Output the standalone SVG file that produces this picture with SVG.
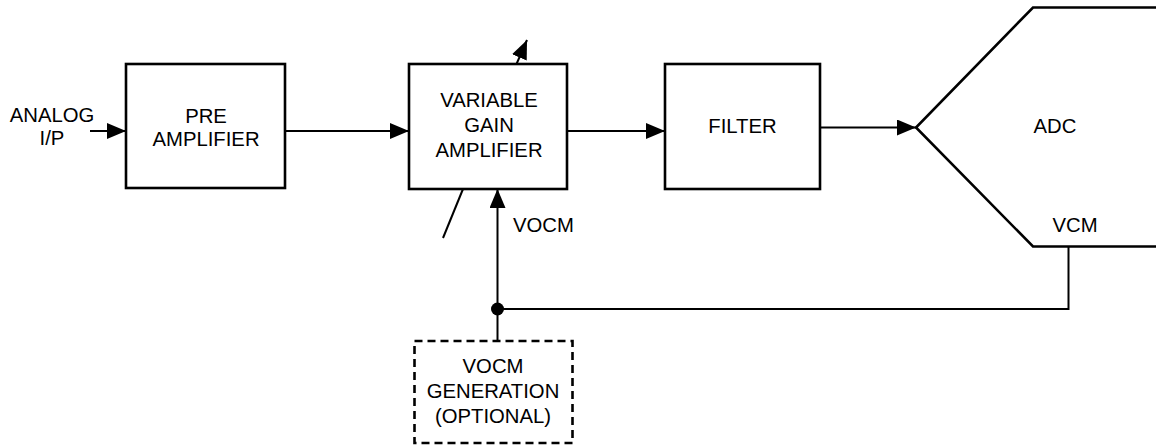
<svg xmlns="http://www.w3.org/2000/svg" width="1156" height="445" viewBox="0 0 1156 445">
<style>
.box{fill:#fff;stroke:#000;stroke-width:2.6;stroke-linejoin:miter}
.dash{fill:#fff;stroke:#000;stroke-width:2.6;stroke-dasharray:8 5}
.ln{fill:none;stroke:#000;stroke-width:2}
.adc{fill:none;stroke:#000;stroke-width:2.6}
text{font-family:"Liberation Sans",Arial,sans-serif;font-size:20.3px;fill:#000;text-anchor:middle}
.l{text-anchor:start}
</style>
<defs>
<marker id="ah" viewBox="0 0 19 16" refX="19" refY="8" markerWidth="19" markerHeight="16" markerUnits="userSpaceOnUse" orient="auto">
<path d="M0,0 L19,8 L0,16 Z" fill="#000"/>
</marker>
</defs>
<g id="connectors">
<line class="ln" x1="90" y1="131" x2="126" y2="131" marker-end="url(#ah)"/>
<line class="ln" x1="285" y1="131" x2="409" y2="131" marker-end="url(#ah)"/>
<line class="ln" x1="567" y1="131" x2="665" y2="131" marker-end="url(#ah)"/>
<line class="ln" x1="820" y1="127.5" x2="916" y2="127.5" marker-end="url(#ah)"/>
<line class="ln" x1="516.5" y1="64" x2="527" y2="40" marker-end="url(#ah)"/>
<line class="ln" x1="463" y1="189" x2="443" y2="238"/>
<line class="ln" x1="497.5" y1="341" x2="497.5" y2="189" marker-end="url(#ah)"/>
<polyline class="ln" points="497.5,309 1068.5,309 1068.5,247"/>
<circle cx="497.5" cy="309" r="6.5" fill="#000"/>
</g>
<g id="analog-ip">
<text x="52" y="122">ANALOG</text>
<text x="52" y="145">I/P</text>
</g>
<g id="pre-amplifier">
<rect class="box" x="126" y="64" width="159" height="124"/>
<text x="206" y="123">PRE</text>
<text x="206" y="146">AMPLIFIER</text>
</g>
<g id="vga">
<rect class="box" x="409" y="64" width="158" height="125"/>
<text x="489" y="107">VARIABLE</text>
<text x="489" y="132">GAIN</text>
<text x="489" y="156.5">AMPLIFIER</text>
</g>
<g id="vocm-label">
<text class="l" x="513" y="232">VOCM</text>
</g>
<g id="filter">
<rect class="box" x="665" y="64" width="155" height="125"/>
<text x="742.5" y="133">FILTER</text>
</g>
<g id="adc">
<polyline class="adc" points="1160,7.5 1033,7.5 916,127.5 1033,246.5 1160,246.5"/>
<text x="1055" y="133">ADC</text>
<text x="1075" y="232">VCM</text>
</g>
<g id="vocm-generation">
<rect class="dash" x="414.5" y="341" width="158" height="102"/>
<text x="493" y="373">VOCM</text>
<text x="493" y="398">GENERATION</text>
<text x="493" y="423">(OPTIONAL)</text>
</g>
</svg>
